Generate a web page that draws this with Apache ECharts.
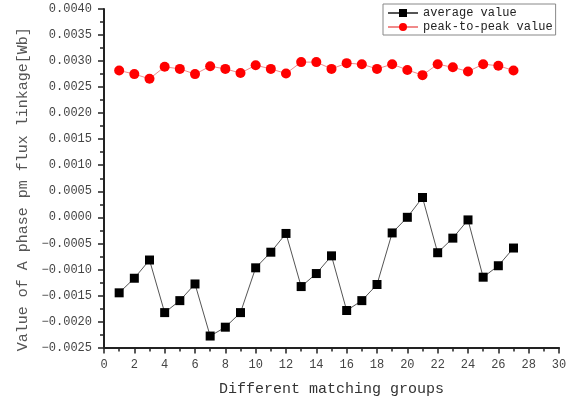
<!DOCTYPE html>
<html><head><meta charset="utf-8">
<script src="https://cdn.jsdelivr.net/npm/echarts@6/dist/echarts.min.js"></script>
<style>html,body{margin:0;padding:0;background:#fff}#c{width:577px;height:402px}</style>
</head><body><div id="c"></div>
<script>
var groups = [1,2,3,4,5,6,7,8,9,10,11,12,13,14,15,16,17,18,19,20,21,22,23,24,25,26,27];
var averageValue = [-0.00145,-0.00117,-0.00082,-0.00183,-0.00160,-0.00128,-0.00228,-0.00211,-0.00183,-0.00097,-0.00067,-0.00031,-0.00133,-0.00108,-0.00074,-0.00179,-0.00160,-0.00129,-0.00030,0.00000,0.00038,-0.00068,-0.00040,-0.00005,-0.00115,-0.00093,-0.00059];
var peakToPeak = [0.00282,0.00275,0.00266,0.00289,0.00285,0.00275,0.00290,0.00285,0.00277,0.00292,0.00285,0.00276,0.00298,0.00298,0.00285,0.00296,0.00294,0.00285,0.00294,0.00283,0.00273,0.00294,0.00288,0.00280,0.00294,0.00291,0.00282];
var seriesNames = ['average value','peak-to-peak value'];
var xTitle = 'Different matching groups';
var yTitle = 'Value of A phase pm flux linkage[Wb]';

function pairs(vals){ return vals.map(function(v,i){ return [groups[i], v]; }); }
var FONT = '"Liberation Mono", monospace';
var chart = echarts.init(document.getElementById('c'));
chart.setOption({
  animation: false,
  backgroundColor: '#fff',
  grid: {left:104, right:18, top:9, bottom:54.5, outerBoundsMode:'none', containLabel:false},
  legend: {
    orient:'vertical', left:383, top:4, padding:[3,3,2,4],
    itemWidth:30, itemHeight:10, itemGap:2,
    borderColor:'#888', borderWidth:1, borderRadius:0,
    textStyle:{fontFamily:FONT, fontSize:12, color:'#222'},
    data: seriesNames
  },
  xAxis: {
    type:'value', min:0, max:30, interval:2,
    name:xTitle, nameLocation:'middle', nameGap:34,
    nameTextStyle:{fontFamily:FONT, fontSize:15, color:'#333'},
    axisLine:{show:true, onZero:false, lineStyle:{color:'#222', width:2}},
    axisTick:{show:true, inside:false, length:6, lineStyle:{color:'#222', width:1.5}},
    minorTick:{show:true, splitNumber:2, length:4, lineStyle:{color:'#222', width:1.5}},
    axisLabel:{fontFamily:FONT, fontSize:12, color:'#444', margin:11},
    splitLine:{show:false}
  },
  yAxis: {
    type:'value', min:-0.0025, max:0.004, interval:0.0005,
    name:yTitle, nameLocation:'middle', nameGap:70, nameRotate:90,
    nameTextStyle:{fontFamily:FONT, fontSize:15, color:'#555', padding:[0,22,0,0]},
    axisLine:{show:true, onZero:false, lineStyle:{color:'#222', width:2}},
    axisTick:{show:true, inside:false, length:6, lineStyle:{color:'#222', width:1.5}},
    minorTick:{show:true, splitNumber:2, length:4, lineStyle:{color:'#222', width:1.5}},
    axisLabel:{fontFamily:FONT, fontSize:12, color:'#444', margin:12,
      formatter:function(v){ var s=Math.abs(v).toFixed(4); return (v < -1e-9 ? '\u2212' : '') + s; }},
    splitLine:{show:false}
  },
  series: [
    {name:seriesNames[0], type:'line', data:pairs(averageValue), symbol:'rect', symbolSize:9,
     itemStyle:{color:'#000'}, lineStyle:{color:'#555', width:1}},
    {name:seriesNames[1], type:'line', data:pairs(peakToPeak), symbol:'circle', symbolSize:10,
     itemStyle:{color:'#ff0000'}, lineStyle:{color:'#f08a8a', width:1}}
  ]
});
</script></body></html>
